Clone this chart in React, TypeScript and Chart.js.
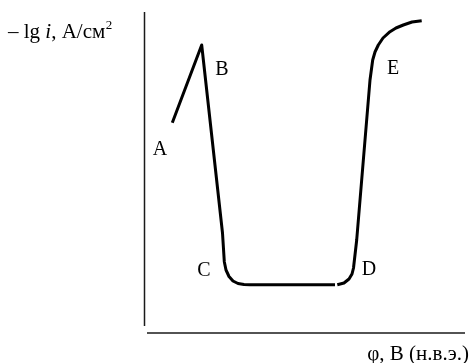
import React, { useEffect, useRef } from "react";
import { Chart, registerables } from "chart.js";

Chart.register(...registerables);

// Polarization curve, potential (arbitrary units) vs −lg i (arbitrary units)
// Segment A–B–C–flat
const seg1X = [2.73, 5.67, 7.75, 7.93, 8.1, 8.4, 8.8, 9.3, 9.9, 10.5, 19.0];
const seg1Y = [21.03, 28.8, 10.0, 7.13, 6.3, 5.65, 5.2, 4.95, 4.85, 4.83, 4.83];
// Segment after the break: D–E
const seg2X = [19.23, 19.9, 20.4, 20.7, 20.85, 21.17, 22.5, 22.77, 23.0, 23.33, 23.8, 24.5, 25.1, 25.83, 26.7, 27.67];
const seg2Y = [4.83, 5.0, 5.4, 5.9, 6.5, 9.3, 25.3, 27.3, 28.1, 28.8, 29.5, 30.13, 30.5, 30.8, 31.1, 31.23];

// Axis lines
const yAxisX = [-0.05, -0.05];
const yAxisY = [0.7, 32.1];
const xAxisX = [0.2, 32.0];
const xAxisY = [0, 0];

// Point labels
const pointLabels = ["A", "B", "C", "D", "E"];
const labelX = [1.5, 7.7, 5.9, 22.4, 24.8];
const labelY = [18.3, 26.3, 6.2, 6.3, 26.4];

const yTitleParts = ["– lg ", "i", ", А/см"];
const yTitleSup = "2";
const xTitle = "φ, В (н.в.э.)";

const FONT = "'Liberation Serif', 'Times New Roman', serif";

const zip = (xs: number[], ys: number[]) => xs.map((x, i) => ({ x, y: ys[i] }));

const textPlugin = {
  id: "texts",
  afterDatasetsDraw(chart: any) {
    const { ctx, scales } = chart;
    const sx = scales.x;
    const sy = scales.y;
    ctx.save();
    ctx.fillStyle = "#000";
    ctx.textAlign = "center";
    ctx.textBaseline = "middle";
    ctx.font = `20px ${FONT}`;
    pointLabels.forEach((t, i) => {
      ctx.fillText(t, sx.getPixelForValue(labelX[i]), sy.getPixelForValue(labelY[i]));
    });

    // y title
    ctx.textAlign = "left";
    ctx.textBaseline = "alphabetic";
    let x = 8;
    const base = 38;
    ctx.font = `21px ${FONT}`;
    ctx.fillText(yTitleParts[0], x, base);
    x += ctx.measureText(yTitleParts[0]).width;
    ctx.font = `italic 21px ${FONT}`;
    ctx.fillText(yTitleParts[1], x, base);
    x += ctx.measureText(yTitleParts[1]).width;
    ctx.font = `21px ${FONT}`;
    ctx.fillText(yTitleParts[2], x, base);
    x += ctx.measureText(yTitleParts[2]).width;
    ctx.font = `13px ${FONT}`;
    ctx.fillText(yTitleSup, x + 0.5, base - 9);

    // x title
    ctx.font = `21px ${FONT}`;
    ctx.textAlign = "right";
    ctx.fillText(xTitle, 469, 360);
    ctx.restore();
  },
};

export default function App() {
  const ref = useRef<HTMLCanvasElement | null>(null);
  useEffect(() => {
    document.body.style.margin = "0";
    if (!ref.current) return;
    const lineDs = (data: any[], width: number, color: string) => ({
      data,
      showLine: true,
      borderColor: color,
      borderWidth: width,
      pointRadius: 0,
      tension: 0,
      fill: false,
      clip: false as any,
      borderCapStyle: "butt",
      borderJoinStyle: "round",
    });
    const chart = new Chart(ref.current, {
      type: "scatter",
      data: {
        datasets: [
          lineDs(zip(yAxisX, yAxisY), 1.5, "#1a1a1a"),
          lineDs(zip(xAxisX, xAxisY), 1.5, "#1a1a1a"),
          lineDs(zip(seg1X, seg1Y), 3, "#000"),
          lineDs(zip(seg2X, seg2Y), 3, "#000"),
        ] as any,
      },
      options: {
        animation: false,
        responsive: false,
        maintainAspectRatio: false,
        layout: { padding: { left: 145, right: 8, top: 12, bottom: 30 } },
        plugins: { legend: { display: false }, tooltip: { enabled: false } },
        events: [],
        scales: {
          x: { type: "linear", min: 0, max: 32, display: false },
          y: { type: "linear", min: 0, max: 32.1, display: false },
        },
      },
      plugins: [textPlugin],
    });
    return () => chart.destroy();
  }, []);
  return (
    <div style={{ width: 473, height: 363, background: "#fff" }}>
      <canvas ref={ref} width={473} height={363} style={{ display: "block" }} />
    </div>
  );
}
